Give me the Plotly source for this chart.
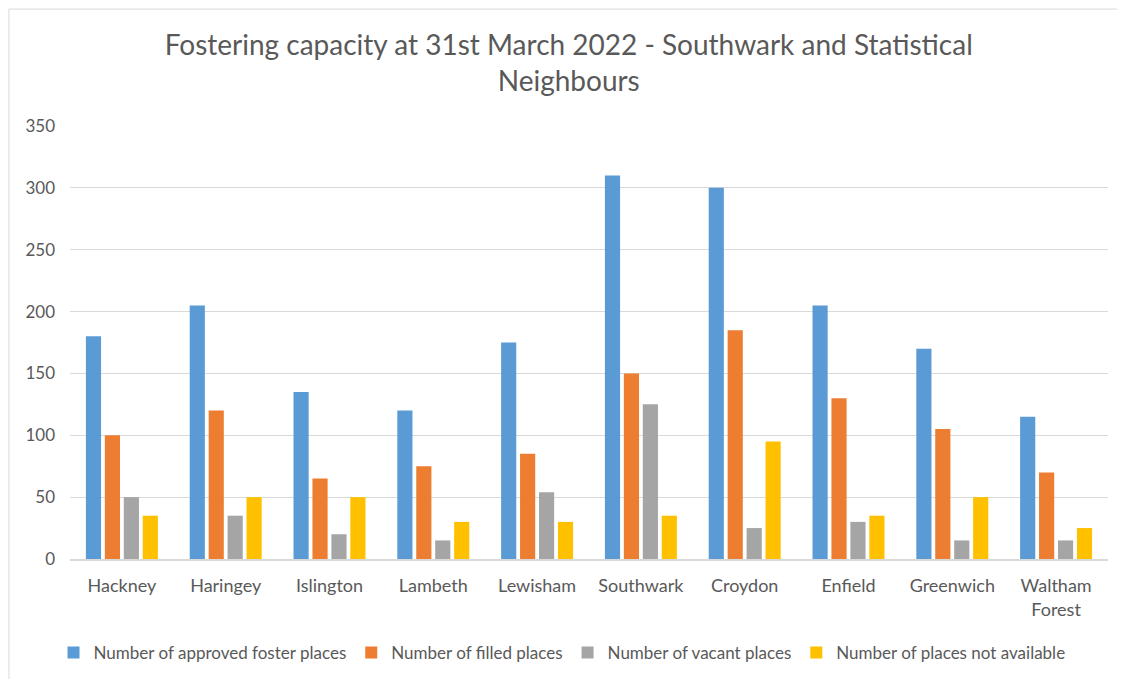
import plotly.graph_objects as go

categories = ["Hackney", "Haringey", "Islington", "Lambeth", "Lewisham", "Southwark",
              "Croydon", "Enfield", "Greenwich", "Waltham<br>Forest"]
approved = [180, 205, 135, 120, 175, 310, 300, 205, 170, 115]
filled = [100, 120, 65, 75, 85, 150, 185, 130, 105, 70]
vacant = [50, 35, 20, 15, 54, 125, 25, 30, 15, 15]
not_available = [35, 50, 50, 30, 30, 35, 95, 35, 50, 25]

series = [
    ("Number of approved foster places", approved, "#5B9BD5"),
    ("Number of filled places", filled, "#ED7D31"),
    ("Number of vacant places", vacant, "#A5A5A5"),
    ("Number of places not available", not_available, "#FFC000"),
]

fig = go.Figure()
for name, vals, col in series:
    fig.add_trace(go.Bar(x=categories, y=vals, name=name, marker_color=col,
                         marker_line_width=0))

FONT = "Lato, Calibri, Carlito, sans-serif"
fig.update_layout(
    width=1117, height=671,
    margin=dict(l=62, r=17, t=118, b=120, autoexpand=False),
    paper_bgcolor="white", plot_bgcolor="white",
    barmode="group", bargap=0.27, bargroupgap=0.2,
    title=dict(text="Fostering capacity at 31st March 2022 - Southwark and Statistical<br>Neighbours",
               x=0.502, xanchor="center", xref="container", y=0.930, yanchor="middle",
               font=dict(family=FONT, size=28, color="#595959")),
    font=dict(family=FONT, size=18, color="#595959"),
    legend=dict(orientation="h", x=0.474, xanchor="center", y=-0.217, yanchor="middle",
                font=dict(family=FONT, size=17, color="#595959"),
                itemwidth=30, tracegroupgap=0),
    showlegend=True,
)
fig.update_yaxes(range=[0, 350], dtick=50, showgrid=True, gridcolor="#D9D9D9", gridwidth=1.3,
                 zeroline=False, showline=False, ticks="", ticklabelstandoff=14,
                 automargin=False,
                 tickfont=dict(family=FONT, size=17, color="#595959"))
fig.update_xaxes(showline=True, linecolor="#D9D9D9", linewidth=1.5, ticks="",
                 ticklabelstandoff=10, automargin=False,
                 tickfont=dict(family=FONT, size=18, color="#595959"))

# chart border (partially visible)
fig.add_shape(type="line", xref="paper", yref="paper", x0=-0.0588, x1=-0.0588, y0=-0.35, y1=1.27,
              line=dict(color="#D9D9D9", width=1))
fig.add_shape(type="line", xref="paper", yref="paper", x0=-0.0588, x1=1.05, y0=1.27, y1=1.27,
              line=dict(color="#D9D9D9", width=1))

fig.write_html("out.html")
